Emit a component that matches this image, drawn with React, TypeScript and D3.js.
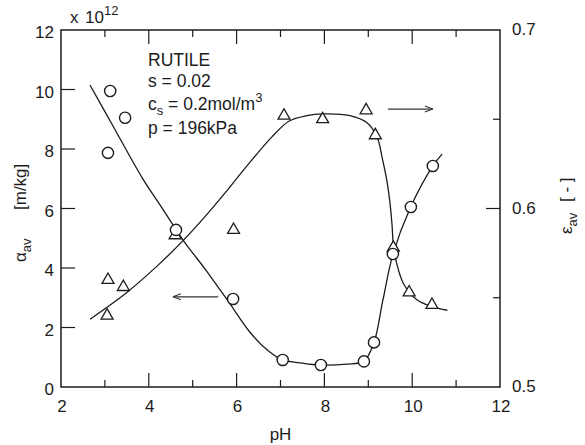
import React from "react";
import * as d3 from "d3";

// Axis ticks
const phLabelTicks = [2, 4, 6, 8, 10, 12];
const phMajorTicks = [4, 6, 8, 10];
const phMinorTicks = [3, 5, 7, 9, 11];
const alphaLabelTicks = [0, 2, 4, 6, 8, 10, 12];
const alphaInnerTicks = [2, 4, 6, 8, 10];
const epsLabelTicks = [0.5, 0.6, 0.7];
const epsMajorTicks = [0.6];
const epsMinorTicks = [0.55, 0.65];

// Specific cake resistance (x 10^12 m/kg), measured
const alphaPH = [3.12, 3.46, 3.07, 4.62, 5.92, 7.05, 7.92, 8.9, 9.13, 9.56, 9.97, 10.47];
const alphaVal = [9.95, 9.05, 7.87, 5.28, 2.96, 0.91, 0.74, 0.86, 1.5, 4.47, 6.05, 7.43];

// Average porosity, measured
const epsPH = [3.05, 3.07, 3.42, 4.6, 5.93, 7.08, 7.96, 8.95, 9.16, 9.57, 9.93, 10.45];
const epsVal = [0.54, 0.56, 0.556, 0.585, 0.588, 0.652, 0.65, 0.655, 0.641, 0.578, 0.553, 0.546];

// Smoothed trend curves
const alphaFitPH = [2.66, 3.2, 3.85, 4.3, 4.78, 5.3, 5.8, 6.3, 6.7, 7.03, 7.5, 7.9, 8.5, 8.9, 9.13, 9.33, 9.56, 9.95, 10.47, 10.68];
const alphaFit = [10.15, 8.73, 7.03, 6.02, 4.94, 3.93, 2.9, 1.85, 1.24, 0.92, 0.8, 0.74, 0.77, 0.87, 1.5, 2.9, 4.45, 6.0, 7.43, 7.83];
const epsFitPH = [2.66, 3.5, 4.2, 4.78, 5.3, 5.78, 6.24, 6.8, 7.2, 7.6, 7.97, 8.58, 8.97, 9.2, 9.32, 9.42, 9.49, 9.54, 9.57, 9.64, 9.8, 10.1, 10.45, 10.8];
const epsFit = [0.538, 0.553, 0.568, 0.582, 0.596, 0.61, 0.624, 0.64, 0.649, 0.652, 0.653, 0.652, 0.648, 0.64, 0.628, 0.616, 0.604, 0.591, 0.58, 0.57, 0.558, 0.549, 0.545, 0.543];

// Arrows telling which axis each curve belongs to: [pH from, pH to, value]
const alphaArrow = [5.58, 4.55, 3.03];
const epsArrow = [9.45, 10.47, 0.6557];

const W = 585;
const H = 445;
const INK = "#1c1c1c";
const FONT = "'Liberation Sans', Arial, Helvetica, sans-serif";

const x = d3.scaleLinear().domain([2, 12]).range([61, 500]);
const yA = d3.scaleLinear().domain([0, 12]).range([387, 30]);
const yE = d3.scaleLinear().domain([0.5, 0.7]).range([387, 30]);

const curve = d3.curveCatmullRom.alpha(0.5);
const alphaLine = d3
  .line<number>()
  .x((_, i) => x(alphaFitPH[i]))
  .y((d) => yA(d))
  .curve(curve);
const epsLine = d3
  .line<number>()
  .x((_, i) => x(epsFitPH[i]))
  .y((d) => yE(d))
  .curve(curve);

const tri = d3.symbol().type(d3.symbolTriangle).size(62)();

function Arrow({ x1, x2, y }: { x1: number; x2: number; y: number }) {
  const dir = x2 > x1 ? 1 : -1;
  const h = `M${x2},${y}L${x2 - dir * 8},${y - 3}M${x2},${y}L${x2 - dir * 8},${y + 3}`;
  return (
    <g stroke="#333" strokeWidth={1.1} fill="none">
      <line x1={x1} x2={x2} y1={y} y2={y} />
      <path d={h} />
    </g>
  );
}

export default function App() {
  const [l, r] = x.range();
  const [b, t] = yA.range();
  return (
    <svg
      width={W}
      height={H}
      style={{ position: "absolute", left: 0, top: 0, background: "#fff" }}
      fontFamily={FONT}
    >
      <rect width={W} height={H} fill="#fff" />
      {/* frame */}
      <rect x={l} y={t} width={r - l} height={b - t} fill="none" stroke={INK} strokeWidth={1.5} />

      {/* pH ticks, bottom and top; value ticks on both sides */}
      <g stroke={INK} strokeWidth={1.2}>
        {phMajorTicks.map((v) => (
          <g key={"M" + v}>
            <line x1={x(v)} x2={x(v)} y1={b} y2={b - 14} />
            <line x1={x(v)} x2={x(v)} y1={t} y2={t + 14} />
          </g>
        ))}
        {phMinorTicks.map((v) => (
          <g key={"m" + v}>
            <line x1={x(v)} x2={x(v)} y1={b} y2={b - 7} />
            <line x1={x(v)} x2={x(v)} y1={t} y2={t + 7} />
          </g>
        ))}
        {alphaInnerTicks.map((v) => (
          <line key={"a" + v} x1={l} x2={l + 14} y1={yA(v)} y2={yA(v)} />
        ))}
        {epsMajorTicks.map((v) => (
          <line key={"E" + v} x1={r} x2={r - 14} y1={yE(v)} y2={yE(v)} />
        ))}
        {epsMinorTicks.map((v) => (
          <line key={"e" + v} x1={r} x2={r - 7} y1={yE(v)} y2={yE(v)} />
        ))}
      </g>

      {/* tick labels */}
      <g fill={INK} fontSize={17}>
        {phLabelTicks.map((v) => (
          <text key={"pl" + v} x={x(v) + 1} y={b + 25} textAnchor="middle">
            {v}
          </text>
        ))}
        {alphaLabelTicks.map((v) => (
          <text key={"al" + v} x={l - 7} y={yA(v) + 8} textAnchor="end">
            {v}
          </text>
        ))}
        {epsLabelTicks.map((v) => (
          <text key={"el" + v} x={r + 12} y={yE(v) + 5} textAnchor="start">
            {v.toFixed(1)}
          </text>
        ))}
      </g>

      {/* multiplier */}
      <text x={70} y={23} fontSize={17} fill={INK}>
        x<tspan x={85}>10</tspan>
        <tspan dy={-8} fontSize={13}>12</tspan>
      </text>

      {/* axis titles */}
      <text x={x(7)} y={440} fontSize={17} fill={INK} textAnchor="middle">
        pH
      </text>
      <g transform="translate(26,262) rotate(-90)" fill={INK} fontSize={17}>
        <text x={0} y={0}>
          α<tspan dy={5} fontSize={13}>av</tspan>
        </text>
        <text x={52} y={0}>[m/kg]</text>
      </g>
      <g transform="translate(572,234) rotate(-90)" fill={INK} fontSize={17}>
        <text x={0} y={0}>
          ε<tspan dy={5} fontSize={13}>av</tspan>
        </text>
        <text x={32} y={0}>[ - ]</text>
      </g>

      {/* conditions */}
      <g fill={INK} fontSize={17.5}>
        <text x={148} y={66}>RUTILE</text>
        <text x={148} y={87}>s = 0.02</text>
        <text x={148} y={110}>
          c<tspan dy={5} fontSize={13}>s</tspan>
          <tspan dy={-5}> = 0.2mol/m</tspan>
          <tspan dy={-8} fontSize={13}>3</tspan>
        </text>
        <text x={148} y={134}>p = 196kPa</text>
      </g>

      {/* trend curves */}
      <path d={alphaLine(alphaFit) ?? ""} fill="none" stroke={INK} strokeWidth={1.3} />
      <path d={epsLine(epsFit) ?? ""} fill="none" stroke={INK} strokeWidth={1.3} />

      {/* axis arrows */}
      <Arrow x1={x(alphaArrow[0])} x2={x(alphaArrow[1])} y={yA(alphaArrow[2])} />
      <Arrow x1={x(epsArrow[0])} x2={x(epsArrow[1])} y={yE(epsArrow[2])} />

      {/* porosity markers */}
      {epsVal.map((v, i) => (
        <path
          key={"t" + i}
          d={tri ?? ""}
          transform={`translate(${x(epsPH[i])},${yE(v)})`}
          fill="#fff"
          stroke={INK}
          strokeWidth={1.3}
        />
      ))}
      {/* resistance markers */}
      {alphaVal.map((v, i) => (
        <circle
          key={"c" + i}
          cx={x(alphaPH[i])}
          cy={yA(v)}
          r={5.6}
          fill="#fff"
          stroke={INK}
          strokeWidth={1.4}
        />
      ))}
    </svg>
  );
}
